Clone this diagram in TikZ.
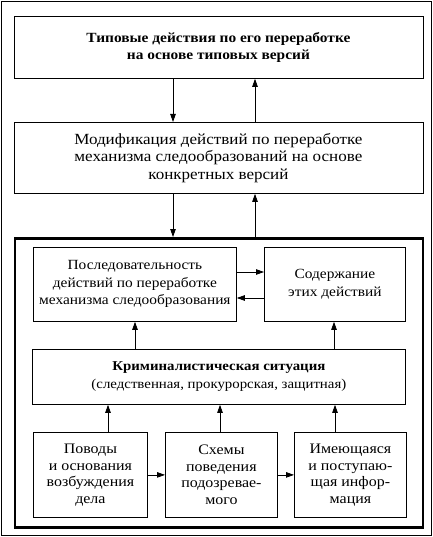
\documentclass[tikz,border=0pt]{standalone}
\usepackage{fontspec}
\setmainfont{Liberation Serif}[FakeStretch=1.1]
\usetikzlibrary{arrows.meta}
\usetikzlibrary{positioning}

\tikzset{
    blk/.style={draw, line width=0.8pt, anchor=north west, align=center,
        inner sep=2pt, font=\fontsize{14}{17.5}\selectfont},
    big/.style={blk, font=\fontsize{15.5}{17.5}\selectfont},
    low/.style={blk, font=\fontsize{14.5}{16.5}\selectfont},
    ttl/.style={blk, font=\fontsize{14}{16.5}\selectfont\bfseries},
    arr/.style={line width=0.8pt, -{Triangle[length=8pt,width=5.5pt]}},
}

\begin{document}
\begin{tikzpicture}[x=1pt,y=-1pt]
    \useasboundingbox (0,0) rectangle (432,537);
    \draw [line width=0.8pt] (1,1) rectangle (431,535);
    % upper part
    \node [ttl, minimum width=409pt, minimum height=62pt] (typ) at (13.5,16)
        {Типовые действия по его переработке\\на основе типовых версий};
    \node [big, minimum width=409pt, minimum height=71pt] (mod) at (13.5,122)
        {Модификация действий по переработке\\механизма следообразований на основе\\конкретных версий};
    \node [draw, line width=2.6pt, anchor=north west, minimum width=408pt, minimum height=289pt] (grp) at (13.5,237) {};
    % inner part
    \node [blk, minimum width=203pt, minimum height=74pt] (seq) at (33,247)
        {Последовательность\\действий по переработке\\механизма следообразования};
    \node [blk, minimum width=141pt, minimum height=74pt] (cont) at (264,247)
        {Содержание\\этих действий};
    \node [blk, minimum width=373pt, minimum height=55pt, font=\fontsize{13.5}{18}\selectfont] (krim) at (32,349)
        {\textbf{Криминалистическая ситуация}\\(следственная, прокурорская, защитная)};
    \node [low, minimum width=114pt, minimum height=85pt] (pov) at (33,432)
        {Поводы\\и основания\\возбуждения\\дела};
    \node [low, minimum width=112pt, minimum height=85pt] (sch) at (165,432)
        {Схемы\\поведения\\подозревае-\\мого};
    \node [low, minimum width=112pt, minimum height=85pt] (inf) at (294,432)
        {Имеющаяся\\и поступаю-\\щая инфор-\\мация};
    % x and y of the connectors
    \coordinate (dn) at (173,0);
    \coordinate (up) at (255,0);
    \coordinate (ra) at (0,272);
    \coordinate (la) at (0,298);
    \coordinate (ks) at (135,0);
    \coordinate (kc) at (334,0);
    \coordinate (bp) at (108,0);
    \coordinate (bs) at (220,0);
    \coordinate (bi) at (335,0);
    \draw [arr] (typ.south -| dn) -- (mod.north -| dn);
    \draw [arr] (mod.north -| up) -- (typ.south -| up);
    \draw [arr] (mod.south -| dn) -- (grp.north -| dn);
    \draw [arr] (grp.north -| up) -- (mod.south -| up);
    \draw [arr] (seq.east |- ra) -- (cont.west |- ra);
    \draw [arr] (cont.west |- la) -- (seq.east |- la);
    \draw [arr] (krim.north -| ks) -- (seq.south -| ks);
    \draw [arr] (krim.north -| kc) -- (cont.south -| kc);
    \draw [arr] (pov.north -| bp) -- (krim.south -| bp);
    \draw [arr] (sch.north -| bs) -- (krim.south -| bs);
    \draw [arr] (inf.north -| bi) -- (krim.south -| bi);
    \draw [arr] (pov) -- (sch);
    \draw [arr] (sch) -- (inf);
\end{tikzpicture}
\end{document}
